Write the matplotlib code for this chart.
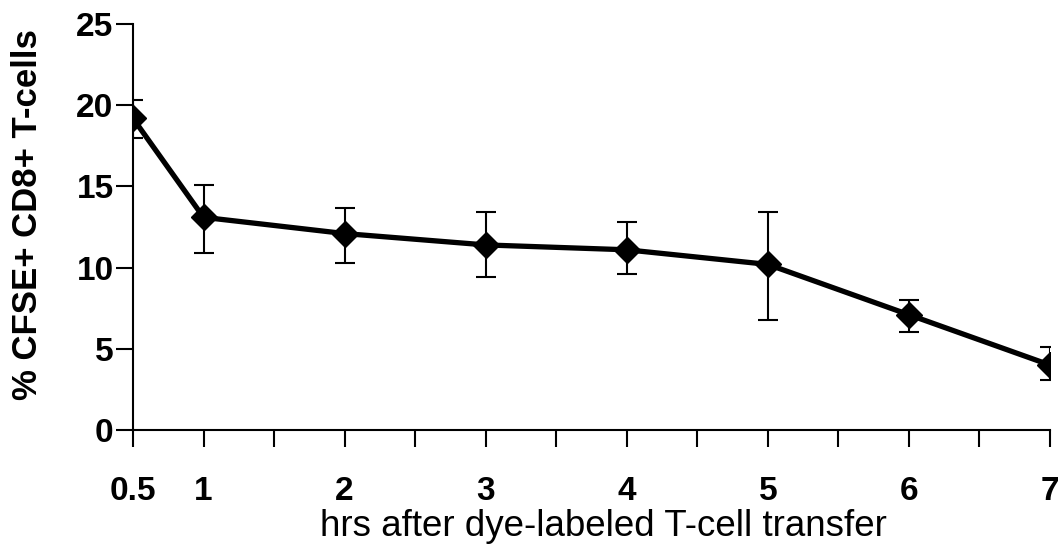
import matplotlib
matplotlib.use("Agg")
import matplotlib.pyplot as plt

# hours after transfer and % CFSE+ CD8+ T-cells
hours = [0.5, 1, 2, 3, 4, 5, 6, 7]
percent = [19.2, 13.1, 12.1, 11.4, 11.1, 10.2, 7.1, 4.0]
err_low = [1.2, 2.2, 1.8, 2.0, 1.5, 3.4, 1.05, 0.9]
err_high = [1.1, 2.0, 1.6, 2.0, 1.7, 3.2, 0.9, 1.1]
tick_labels = ["0.5", "1", "2", "3", "4", "5", "6", "7"]
y_ticks = [0, 5, 10, 15, 20, 25]

plt.rcParams['font.family'] = ['Liberation Sans', 'DejaVu Sans']

fig = plt.figure(figsize=(10.62, 5.49), dpi=100)
ax = fig.add_axes([0.1252, 0.2168, 0.8635, 0.7392])

ax.errorbar(hours, percent, yerr=[err_low, err_high], color='black',
            lw=3.8, marker='D', markersize=13, ecolor='black',
            elinewidth=1.5, capsize=7, capthick=1.5)

ax.set_xlim(0.5, 7)
ax.set_ylim(0, 25)
ax.set_xticks(hours, tick_labels)
ax.set_xticks([1.5, 2.5, 3.5, 4.5, 5.5, 6.5], minor=True)
ax.set_yticks(y_ticks, [str(v) for v in y_ticks])

ax.tick_params(axis='x', which='both', direction='out', length=12, width=1.5, pad=21)
ax.tick_params(axis='x', labelsize=24)
ax.tick_params(axis='y', direction='out', length=12, width=1.5, pad=2, labelsize=24)
for lab in ax.get_xticklabels() + ax.get_yticklabels():
    lab.set_fontweight('bold')

for side in ['top', 'right']:
    ax.spines[side].set_visible(False)
for side in ['left', 'bottom']:
    ax.spines[side].set_linewidth(1.5)

ax.set_xlabel('hrs after dye-labeled T-cell transfer', fontsize=26.5)
ax.xaxis.set_label_coords(0.513, -0.195)
ax.set_ylabel('% CFSE+ CD8+ T-cells', fontsize=25, fontweight='bold')
ax.yaxis.set_label_coords(-0.097, 0.53)

fig.savefig('out.png', dpi=100)
